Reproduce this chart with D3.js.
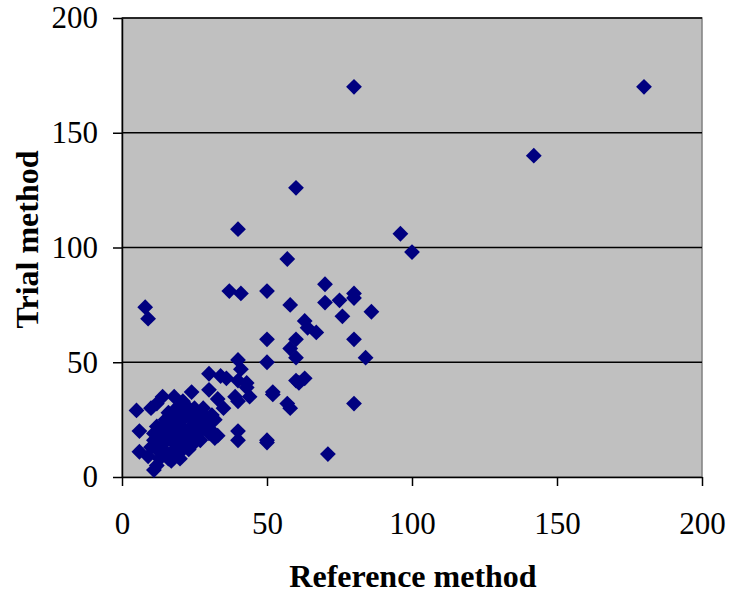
<!DOCTYPE html>
<html>
<head>
<meta charset="utf-8">
<script src="https://cdn.jsdelivr.net/npm/d3@7"></script>
<style>
  body { margin: 0; background: #fff; }
  svg text { font-family: "Liberation Serif", "Times New Roman", serif; }
</style>
</head>
<body>
<svg id="chart"></svg>
<script>
// Reference method (x) vs trial method (y)
const refValues = [
  80, 180, 142, 60, 40, 96, 100, 57, 37, 41, 50, 70, 58, 70, 75, 80, 80, 86, 76, 63,
  64, 67, 80, 60, 50, 58, 60, 84, 50, 40, 8, 9, 52, 60, 63, 57, 58, 80, 50, 71,
  41, 40, 43, 39, 44, 30, 34, 30, 33, 40, 40, 33, 30, 26, 50, 52, 61, 40, 43, 18,
  24, 21, 5, 6, 6, 10, 12, 14, 11, 9, 11, 13, 16, 10, 12, 13, 12, 14, 15, 17,
  18, 15, 14, 16, 17, 18, 19, 20, 20, 21, 22, 22, 23, 24, 24, 25, 19, 18, 20, 23,
  22, 25, 26, 27, 28, 29, 30, 31, 32, 26, 27, 24, 21, 19, 13, 15, 16, 17, 12, 11,
  28, 31, 35, 32, 23, 20, 27, 36, 25, 29
];
const trialValues = [
  170, 170, 140, 126, 108, 106, 98, 95, 81, 80, 81, 84, 75, 76, 77, 80, 78, 72, 70, 68,
  65, 63, 60, 60, 60, 56, 52, 52, 50, 51, 74, 69, 36, 42, 43, 32, 30, 32, 15, 10,
  47, 42, 41, 35, 35, 45, 44, 38, 34, 20, 16, 18, 19, 17, 16, 37, 41, 33, 39, 35,
  37, 33, 29, 20, 11, 30, 32, 35, 3, 9, 16, 21, 8, 13, 5, 8, 12, 14, 18, 7,
  12, 11, 21, 22, 16, 19, 14, 17, 22, 25, 20, 15, 18, 22, 27, 24, 26, 29, 31, 30,
  28, 30, 28, 25, 22, 26, 23, 27, 25, 19, 16, 14, 12, 10, 17, 25, 28, 24, 22, 19,
  30, 20, 30, 17, 12, 8, 20, 43, 15, 24
];
const xTicks = [0, 50, 100, 150, 200];
const yTicks = [0, 50, 100, 150, 200];
const gridValues = [50, 100, 150, 200];

const width = 731;
const height = 597;
const margin = { top: 18, right: 29, bottom: 120, left: 122 };

const svg = d3.select('#chart')
  .attr('width', width)
  .attr('height', height);

const xScale = d3.scaleLinear()
  .domain([0, 200])
  .range([margin.left, width - margin.right]);

const yScale = d3.scaleLinear()
  .domain([0, 200])
  .range([height - margin.bottom, margin.top]);

// plot area
svg.append('rect')
  .attr('x', xScale(0))
  .attr('y', yScale(200))
  .attr('width', xScale(200) - xScale(0))
  .attr('height', yScale(0) - yScale(200))
  .attr('fill', '#c0c0c0')
  .attr('stroke', '#808080')
  .attr('stroke-width', 1.5);

// horizontal gridlines
svg.selectAll('line.grid')
  .data(gridValues)
  .enter()
  .append('line')
  .attr('class', 'grid')
  .attr('x1', xScale(0))
  .attr('x2', xScale(200))
  .attr('y1', d => yScale(d))
  .attr('y2', d => yScale(d))
  .attr('stroke', '#000')
  .attr('stroke-width', 1.5);

const xAxis = g => g
  .attr('transform', `translate(0,${yScale(0)})`)
  .call(d3.axisBottom(xScale).tickValues(xTicks).tickSize(9).tickPadding(26).tickSizeOuter(0));

const yAxis = g => g
  .attr('transform', `translate(${xScale(0)},0)`)
  .call(d3.axisLeft(yScale).tickValues(yTicks).tickSize(9).tickPadding(15).tickSizeOuter(0));

svg.append('g').call(xAxis);
svg.append('g').call(yAxis);

svg.selectAll('.domain, .tick line')
  .attr('stroke', '#000')
  .attr('stroke-width', 1.5);

svg.selectAll('.tick text')
  .attr('fill', '#000')
  .style('font-size', '31px');

// diamond markers
const points = refValues.map((x, i) => ({ x, y: trialValues[i] }));
const diamond = d3.symbol().type(d3.symbolSquare).size(125);

svg.append('g')
  .selectAll('path')
  .data(points)
  .enter()
  .append('path')
  .attr('d', diamond)
  .attr('transform', d => `translate(${xScale(d.x)},${yScale(d.y)}) rotate(45)`)
  .attr('fill', '#000080');

// axis titles
svg.append('text')
  .attr('x', (xScale(0) + xScale(200)) / 2 + 1)
  .attr('y', 587)
  .attr('text-anchor', 'middle')
  .style('font-size', '32px')
  .style('font-weight', 'bold')
  .text('Reference method');

svg.append('text')
  .attr('transform', `translate(38,${(yScale(0) + yScale(200)) / 2 - 8}) rotate(-90)`)
  .attr('text-anchor', 'middle')
  .style('font-size', '32px')
  .style('font-weight', 'bold')
  .text('Trial method');
</script>
</body>
</html>
